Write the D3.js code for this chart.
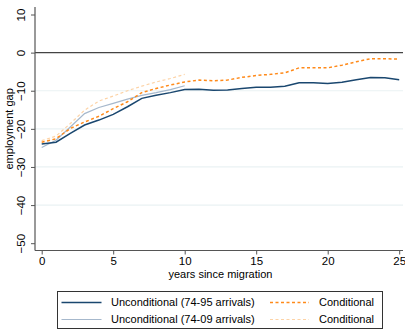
<!DOCTYPE html>
<html>
<head>
<meta charset="utf-8">
<script src="https://cdn.jsdelivr.net/npm/d3@7"></script>
<style>
  html, body { margin: 0; padding: 0; background: #fff; }
  svg { display: block; font-family: "Liberation Sans", Arial, sans-serif; }
</style>
</head>
<body>
<svg id="chart" width="405" height="329"></svg>
<script>
// Years since migration
const yearsLong = d3.range(0, 26);
const yearsShort = d3.range(0, 11);

// Employment gap, unconditional, 1974-95 arrivals
const uncond7495 = [-24.0, -23.5, -21.2, -19.0, -17.7, -16.2, -14.2, -12.0, -11.2, -10.5, -9.7,
  -9.6, -9.9, -9.8, -9.4, -9.1, -9.1, -8.8, -7.9, -7.9, -8.1, -7.8, -7.1, -6.5, -6.6, -7.1];
// Employment gap, conditional, 1974-95 arrivals
const cond7495 = [-23.5, -22.6, -19.9, -18.2, -16.7, -14.7, -12.9, -10.5, -9.4, -8.5, -7.7,
  -7.2, -7.4, -7.2, -6.5, -6.0, -5.7, -5.3, -4.0, -4.0, -4.0, -3.3, -2.4, -1.6, -1.6, -1.7];
// Employment gap, unconditional, 1974-09 arrivals
const uncond7409 = [-24.9, -23.0, -19.5, -16.0, -14.4, -13.3, -12.2, -11.2, -10.5, -9.7, -8.7];
// Employment gap, conditional, 1974-09 arrivals
const cond7409 = [-23.1, -21.9, -18.6, -15.1, -12.7, -11.4, -10.0, -8.8, -7.7, -6.8, -5.7];

const yTicks = [10, 0, -10, -20, -30, -40, -50];
const xTicks = [0, 5, 10, 15, 20, 25];
const legendLabels = ["Unconditional (74-95 arrivals)", "Conditional",
                      "Unconditional (74-09 arrivals)", "Conditional"];

const svg = d3.select("#chart");

const x = d3.scaleLinear().domain([0, 25]).range([41.7, 399.2]);
const y = d3.scaleLinear().domain([-50, 10]).range([243.2, 14.5]);

const plotLeft = 35, plotRight = 403, plotTop = 7, plotBottom = 250.5;

// horizontal grid lines
svg.append("g").selectAll("line")
  .data(yTicks.filter(v => v !== 10 && v !== -50 && v !== 0))
  .join("line")
  .attr("x1", plotLeft).attr("x2", plotRight)
  .attr("y1", d => y(d)).attr("y2", d => y(d))
  .attr("stroke", "#eaf2f3").attr("stroke-width", 1.2);

// reference line at zero
svg.append("line")
  .attr("x1", plotLeft).attr("x2", plotRight)
  .attr("y1", y(0)).attr("y2", y(0))
  .attr("stroke", "#444").attr("stroke-width", 1.3);

// y axis
const yAxis = d3.axisLeft(y).tickValues(yTicks).tickSize(4).tickFormat(d3.format("d"));
const gy = svg.append("g").attr("transform", `translate(${plotLeft},0)`).call(yAxis);
gy.select(".domain").remove();
gy.append("line").attr("x1", 0).attr("x2", 0).attr("y1", plotTop).attr("y2", plotBottom)
  .attr("stroke", "#555").attr("stroke-width", 1.2);
gy.selectAll(".tick line").attr("stroke", "#555");
gy.selectAll(".tick text")
  .attr("x", 0).attr("dy", 0)
  .attr("transform", "translate(-10,0) rotate(-90)")
  .attr("text-anchor", "middle")
  .attr("fill", "#000").attr("font-size", 11.5)
  .attr("font-family", "Liberation Sans, Arial, sans-serif");

// x axis
const xAxis = d3.axisBottom(x).tickValues(xTicks).tickSize(4).tickFormat(d3.format("d"));
const gx = svg.append("g").attr("transform", `translate(0,${plotBottom})`).call(xAxis);
gx.select(".domain").remove();
gx.append("line").attr("x1", plotLeft).attr("x2", plotRight).attr("y1", 0).attr("y2", 0)
  .attr("stroke", "#555").attr("stroke-width", 1.2);
gx.selectAll(".tick line").attr("stroke", "#555");
gx.selectAll(".tick text")
  .attr("y", 6).attr("dy", "0.71em")
  .attr("fill", "#000").attr("font-size", 11.5)
  .attr("font-family", "Liberation Sans, Arial, sans-serif");

// axis titles
svg.append("text")
  .attr("x", (x(0) + x(25)) / 2).attr("y", 278)
  .attr("text-anchor", "middle").attr("font-size", 11)
  .text("years since migration");
svg.append("text")
  .attr("transform", `translate(13,${(y(10) + y(-50)) / 2}) rotate(-90)`)
  .attr("text-anchor", "middle").attr("font-size", 11)
  .text("employment gap");

// series
const series = [
  { xs: yearsShort, ys: cond7409, color: "#fdd3a6", width: 1.2, dash: "3,2.5" },
  { xs: yearsShort, ys: uncond7409, color: "#a6b8cc", width: 1.2, dash: null },
  { xs: yearsLong, ys: cond7495, color: "#ff8a1a", width: 1.5, dash: "3,2.5" },
  { xs: yearsLong, ys: uncond7495, color: "#1a476f", width: 1.5, dash: null }
];
const line = d3.line().x(d => x(d[0])).y(d => y(d[1]));
series.forEach(s => {
  svg.append("path")
    .datum(s.xs.map((v, i) => [v, s.ys[i]]))
    .attr("d", line)
    .attr("fill", "none")
    .attr("stroke", s.color)
    .attr("stroke-width", s.width)
    .attr("stroke-dasharray", s.dash);
});

// legend
const lg = svg.append("g");
lg.append("rect")
  .attr("x", 57.5).attr("y", 291.5).attr("width", 325).attr("height", 37)
  .attr("fill", "#fff").attr("stroke", "#333").attr("stroke-width", 1);
const legendItems = [
  { label: legendLabels[0], color: "#1a476f", width: 1.5, dash: null, col: 0, row: 0 },
  { label: legendLabels[1], color: "#ff8a1a", width: 1.5, dash: "3,2.5", col: 1, row: 0 },
  { label: legendLabels[2], color: "#a6b8cc", width: 1.2, dash: null, col: 0, row: 1 },
  { label: legendLabels[3], color: "#fdd3a6", width: 1.2, dash: "3,2.5", col: 1, row: 1 }
];
const colX = [[61.5, 101.5, 111], [270, 309, 319]];
const rowY = [302.5, 319.5];
legendItems.forEach(it => {
  const [x1, x2, tx] = colX[it.col];
  const yy = rowY[it.row];
  lg.append("line").attr("x1", x1).attr("x2", x2).attr("y1", yy).attr("y2", yy)
    .attr("stroke", it.color).attr("stroke-width", it.width).attr("stroke-dasharray", it.dash);
  lg.append("text").attr("x", tx).attr("y", yy).attr("dy", "0.35em")
    .attr("font-size", 11).text(it.label);
});
</script>
</body>
</html>
